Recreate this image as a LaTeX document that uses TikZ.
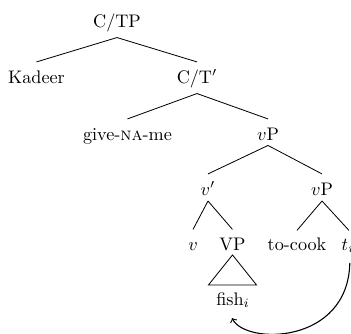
\documentclass[tikz,border=0pt]{standalone}
\begin{document}
\begin{tikzpicture}[x=0.55pt,y=-0.55pt,
  lbl/.style={inner sep=0pt,text height=6.8pt,text depth=0pt},
  edge/.style={line width=0.45pt},
  move/.style={line width=0.6pt,->}]
\useasboundingbox (0,0) rectangle (351,333);
% nodes
\node[lbl] (CTP)    at (117,21)   {C/TP};
\node[lbl] (Kadeer) at (36.5,77)  {Kadeer};
\node[lbl] (CTbar)  at (197,77)   {C/T$'$};
\node[lbl] (give)   at (127.5,134){give-\textsc{na}-me};
\node[lbl] (vPa)    at (268,134)  {$v$P};
\node[lbl] (vbar)   at (208,189)  {$v'$};
\node[lbl] (vPb)    at (322,189)  {$v$P};
\node[lbl] (v)      at (193,244)  {$v$};
\node[lbl] (VP)     at (232.5,244){VP};
\node[lbl] (tocook) at (297,244)  {to-cook};
\node[lbl] (t)      at (348,244)  {$t_i$};
\node[lbl] (fish)   at (233,299)  {fish$_i$};
% edges
\draw[edge] ([yshift=-9.1pt]CTP.center) -- ([yshift=8.3pt]Kadeer.center);
\draw[edge] ([yshift=-9.1pt]CTP.center) -- ([yshift=8.3pt]CTbar.center);
\draw[edge] ([yshift=-9.1pt]CTbar.center) -- ([yshift=8.3pt]give.center);
\draw[edge] ([yshift=-9.1pt]CTbar.center) -- ([yshift=8.3pt]vPa.center);
\draw[edge] ([yshift=-6.3pt]vPa.center) -- ([yshift=8.3pt]vbar.center);
\draw[edge] ([yshift=-6.3pt]vPa.center) -- ([yshift=8.3pt]vPb.center);
\draw[edge] ([yshift=-6.6pt]vbar.center) -- ([yshift=8pt]v.center);
\draw[edge] ([yshift=-6.6pt]vbar.center) -- ([yshift=8pt]VP.center);
\draw[edge] ([yshift=-6.6pt]vPb.center) -- ([yshift=7.5pt]tocook.center);
\draw[edge] ([yshift=-6.6pt]vPb.center) -- ([yshift=7.5pt,xshift=0.5pt]t.center);
% triangle under VP
\draw[edge] ([yshift=-6pt]VP.center) -- ++(-24,30) -- ++(48,0) -- cycle;
% movement arrow
\draw[move] ([yshift=-10.4pt,xshift=1pt]t.center) .. controls (348,345) and (245,345) .. ([yshift=-10.5pt,xshift=-0.5pt]fish.center);
\end{tikzpicture}
\end{document}
